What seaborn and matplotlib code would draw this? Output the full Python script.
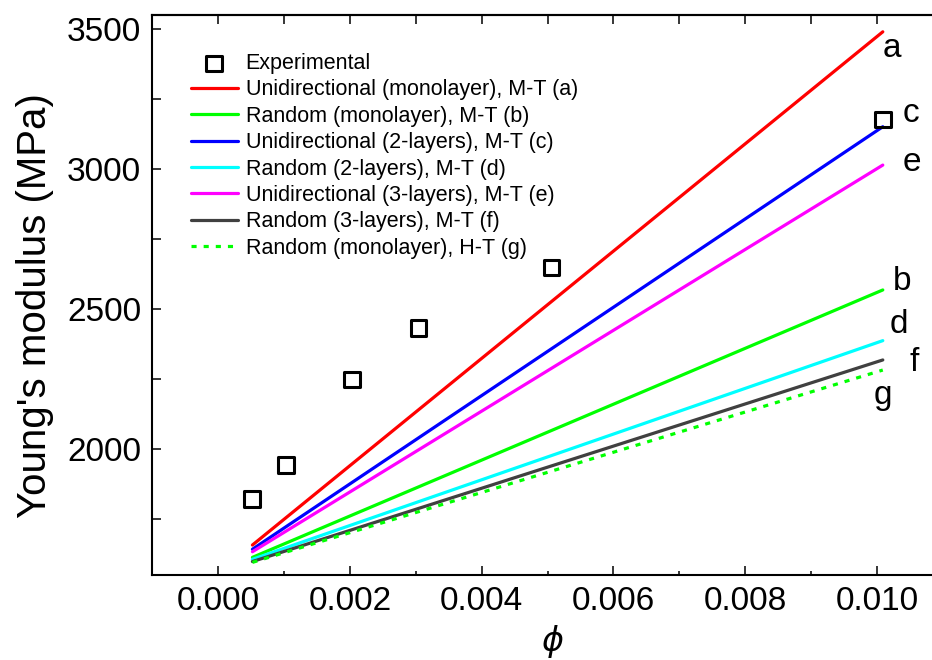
import matplotlib

matplotlib.use("Agg")
import matplotlib.pyplot as plt
import numpy as np
import pandas as pd
import seaborn as sns
from matplotlib.ticker import MultipleLocator, NullFormatter


# experimental points
EXP_PHI = [0.00051, 0.00103, 0.00203, 0.00304, 0.00506, 0.01009]
EXP_MODULUS = [1821, 1943, 2249, 2433, 2648, 3176]

# model lines (start / end of each straight line)
MODEL_PHI = [0.00052, 0.01009]
MODEL_SERIES = [
    ("Unidirectional (monolayer), M-T (a)", "a", [1657, 3490]),
    ("Random (monolayer), M-T (b)", "b", [1613, 2568]),
    ("Unidirectional (2-layers), M-T (c)", "c", [1642, 3151]),
    ("Random (2-layers), M-T (d)", "d", [1606, 2387]),
    ("Unidirectional (3-layers), M-T (e)", "e", [1633, 3014]),
    ("Random (3-layers), M-T (f)", "f", [1598, 2318]),
    ("Random (monolayer), H-T (g)", "g", [1595, 2282]),
]
COLORS = ["#ff0000", "#00ff00", "#0000ff", "#00ffff", "#ff00ff", "#404040", "#00ff00"]
STYLES = ["-", "-", "-", "-", "-", "-", (0, (1.6, 2.2))]
# where each end label sits relative to the end of its line (pixels)
LABEL_OFFSETS = [(0, -25), (10, 0), (20, 5), (7, 8), (20, -6), (27, -11), (-9, -34)]

X_LABEL = r"$\phi$"
Y_LABEL = "Young's modulus (MPa)"


def main() -> None:
    sns.set_style("ticks")
    plt.rcParams["font.family"] = ["Liberation Sans", "DejaVu Sans"]
    plt.rcParams["mathtext.fontset"] = "dejavusans"
    for key in ["text.color", "axes.labelcolor", "xtick.color", "ytick.color", "axes.edgecolor"]:
        plt.rcParams[key] = "black"

    fig = plt.figure(figsize=(9.32, 6.6), dpi=100)
    ax = fig.add_axes([152.3 / 932, 85 / 660, 1 - 152.3 / 932, 560 / 660])

    exp_df = pd.DataFrame({"phi": EXP_PHI, "E": EXP_MODULUS})
    sns.scatterplot(
        data=exp_df, x="phi", y="E", ax=ax, marker="s", s=125,
        facecolor="none", edgecolor="black", linewidth=2.2,
        label="Experimental", zorder=5,
    )

    for (label, letter, values), color, style, offset in zip(
        MODEL_SERIES, COLORS, STYLES, LABEL_OFFSETS
    ):
        sns.lineplot(
            x=MODEL_PHI, y=values, ax=ax, color=color, linewidth=2.3,
            linestyle=style, label=label,
        )
        ax.annotate(
            letter, xy=(MODEL_PHI[-1], values[-1]), xytext=offset,
            textcoords="offset pixels", fontsize=24, ha="left", va="baseline",
        )

    ax.set_xlim(-0.001, -0.001 + 779.7 / 65.87 * 0.001)
    ax.set_ylim(1550, 3550)
    ax.xaxis.set_major_locator(MultipleLocator(0.002))
    ax.xaxis.set_minor_locator(MultipleLocator(0.001))
    ax.yaxis.set_major_locator(MultipleLocator(500))
    ax.yaxis.set_minor_locator(MultipleLocator(250))
    ax.xaxis.set_major_formatter(plt.FuncFormatter(lambda v, _: f"{v:.3f}"))

    ax.tick_params(axis="both", which="both", direction="in", width=1.1,
                   labelsize=24, pad=8, top=False, right=False)
    ax.tick_params(axis="x", which="major", length=6.5)
    ax.tick_params(axis="x", which="minor", length=3)
    ax.tick_params(axis="y", which="both", length=6.5)

    top = ax.secondary_xaxis("top")
    top.set_xticks(np.arange(-0.001, 0.0105, 0.001))
    top.xaxis.set_major_formatter(NullFormatter())
    top.tick_params(direction="in", length=6.5, width=1.1)
    top.spines["top"].set_linewidth(1.5)

    for side in ["left", "bottom", "top"]:
        ax.spines[side].set_linewidth(1.5)
    ax.spines["right"].set_visible(False)

    ax.set_xlabel(X_LABEL, fontsize=24)
    ax.set_ylabel(Y_LABEL, fontsize=29)
    ax.xaxis.set_label_coords(0.513, -0.085)
    ax.yaxis.set_label_coords(-0.126, 0.482)

    handles, labels = ax.get_legend_handles_labels()
    ax.legend(
        handles, labels, loc="upper left", bbox_to_anchor=(0.049, 0.932),
        frameon=False, fontsize=15.5, handlelength=2.2, handletextpad=0.36,
        labelspacing=0.25, borderpad=0, borderaxespad=0,
    )

    fig.savefig("out.png", dpi=100)
    plt.close(fig)


if __name__ == "__main__":
    main()
